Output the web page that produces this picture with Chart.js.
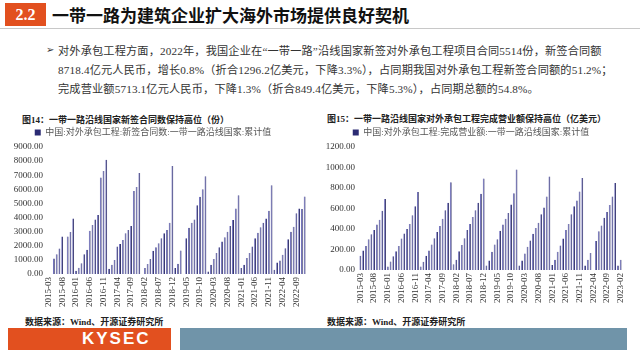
<!DOCTYPE html>
<html>
<head>
<meta charset="utf-8">
<script src="https://cdn.jsdelivr.net/npm/chart.js@4.4.0/dist/chart.umd.min.js"></script>
<style>
    body { margin: 0; width: 640px; height: 360px; background: #fff; position: relative; overflow: hidden;
           font-family: "Liberation Serif", "Noto Sans CJK SC", serif; }
    .abs { position: absolute; white-space: nowrap; }
    #secNo { left: 5px; top: 3px; width: 41px; height: 23px; background: #e2501f; color: #fff;
             font: bold 16px "Liberation Serif"; line-height: 23px; text-align: center; }
    #headLine { left: 0; top: 28px; width: 640px; height: 1px; background: #c8c8c8; }
    #headTitle { left: 52px; top: 4px; font: bold 17px "Noto Sans CJK SC"; color: #111; line-height: 22px; }
    .para { left: 58px; font-size: 11.2px; color: #333; line-height: 14px; letter-spacing: 0.15px; }
    #bullet { left: 46px; top: 44px; font: bold 10px "DejaVu Sans"; color: #333; }
    .ctitle { font: bold 9px "Liberation Serif", "Noto Sans CJK SC"; color: #222; line-height: 12px; }
    .src { font: bold 9px "Liberation Serif", "Noto Sans CJK SC"; color: #222; line-height: 12px; }
    #footL { left: 8px; top: 328px; width: 163px; height: 22px; background: #e2501f; color: #fff;
             font: bold 17px "Liberation Sans"; line-height: 22px; letter-spacing: 2px; }
    #footL span { position: absolute; left: 74px; }
    #footR { left: 180px; top: 328px; width: 447px; height: 22px; background: #7094a9; }
    canvas { position: absolute; }
</style>
</head>
<body>
<div class="abs" id="secNo">2.2</div>
<div class="abs" id="headTitle">一带一路为建筑企业扩大海外市场提供良好契机</div>
<div class="abs" id="headLine"></div>

<div class="abs" id="bullet">➢</div>
<div class="abs para" style="top:44px">对外承包工程方面，2022年，我国企业在“一带一路”沿线国家新签对外承包工程项目合同5514份，新签合同额</div>
<div class="abs para" style="top:63px">8718.4亿元人民币，增长0.8%（折合1296.2亿美元，下降3.3%），占同期我国对外承包工程新签合同额的51.2%；</div>
<div class="abs para" style="top:82px">完成营业额5713.1亿元人民币，下降1.3%（折合849.4亿美元，下降5.3%），占同期总额的54.8%。</div>

<div class="abs ctitle" style="left:22px; top:114px">图14：一带一路沿线国家新签合同数保持高位（份）</div>
<div class="abs ctitle" style="left:327px; top:113px">图15：一带一路沿线国家对外承包工程完成营业额保持高位（亿美元）</div>

<canvas id="countChart" width="320" height="190" style="left:0; top:124px"></canvas>
<canvas id="revenueChart" width="320" height="190" style="left:320px; top:124px"></canvas>

<div class="abs src" style="left:25px; top:316px">数据来源：Wind、开源证券研究所</div>
<div class="abs src" style="left:327px; top:316px">数据来源：Wind、开源证券研究所</div>

<div class="abs" id="footL"><span>KYSEC</span></div>
<div class="abs" id="footR"></div>

<script>
    // 月份（2015-03 至 2023-02）
    const months = [
        '2015-03', '2015-04', '2015-05', '2015-06', '2015-07', '2015-08', '2015-09', '2015-10', '2015-11', '2015-12',
        '2016-01', '2016-02', '2016-03', '2016-04', '2016-05', '2016-06', '2016-07', '2016-08', '2016-09', '2016-10', '2016-11', '2016-12',
        '2017-01', '2017-02', '2017-03', '2017-04', '2017-05', '2017-06', '2017-07', '2017-08', '2017-09', '2017-10', '2017-11', '2017-12',
        '2018-01', '2018-02', '2018-03', '2018-04', '2018-05', '2018-06', '2018-07', '2018-08', '2018-09', '2018-10', '2018-11', '2018-12',
        '2019-01', '2019-02', '2019-03', '2019-04', '2019-05', '2019-06', '2019-07', '2019-08', '2019-09', '2019-10', '2019-11', '2019-12',
        '2020-01', '2020-02', '2020-03', '2020-04', '2020-05', '2020-06', '2020-07', '2020-08', '2020-09', '2020-10', '2020-11', '2020-12',
        '2021-01', '2021-02', '2021-03', '2021-04', '2021-05', '2021-06', '2021-07', '2021-08', '2021-09', '2021-10', '2021-11', '2021-12',
        '2022-01', '2022-02', '2022-03', '2022-04', '2022-05', '2022-06', '2022-07', '2022-08', '2022-09', '2022-10', '2022-11', '2022-12',
        '2023-01', '2023-02'
    ];

    // 新签合同数（份），累计值，2015-03 至 2022-12
    const contractCounts = [
        null, null, 1100, 1400, 1800, 2650, null, 2650, 2980, 3940,
        230, 440, 770, 1400, 1710, 3070, 3470, 3870, 4180, 6830, 7300, 8100,
        370, 650, 1000, 1940, 2130, 2410, 2890, 3120, 3400, 5890, 6170, 7160,
        null, 420, 700, 1060, 1640, 1900, 2180, 2530, 2890, 3120, 3630, 7650,
        420, 725, 1660, null, 2530, 3280, 3630, 3870, 4880, 5470, 6010, 6920,
        180, 650, 1060, 1480, 1900, 2300, 2600, 3000, 3400, 3820, 4640, 5580,
        420, 650, 1130, 1480, 1940, 2530, 2930, 3310, 3630, 3940, 4480, 6290,
        300, 820, 960, 1360, 1830, 2460, 3000, 3350, 4300, 4650, 4600, 5500
    ];

    // 完成营业额（亿美元），累计值，2015-03 至 2023-02
    const revenueUsd = [
        140, 190, 233, 300, 350, 390, 443, 490, 577, 693,
        33, 83, 133, 183, 233, 307, 357, 400, 450, 533, 623, 760,
        35, 80, 140, 190, 250, 310, 370, 430, 500, 583, 657, 855,
        57, 100, 183, 243, 310, 390, 450, 517, 583, 657, 743, 893,
        43, 93, 177, 250, 300, 383, 443, 500, 557, 640, 750, 980,
        43, 93, 160, 227, 287, 353, 410, 460, 543, 610, 717, 911,
        50, 100, 177, 240, 307, 390, 450, 543, 623, 677, 767, 897,
        43, 100, 167, null, 283, 377, 433, 510, 567, 633, 717, 849,
        43, 100
    ];

    const countTicks = { max: 9000, step: 1000 };
    const revenueTicks = { max: 1200, step: 200 };

    const barFill = '#6464b6';
    const barEdge = '#1c1c55';

    Chart.defaults.font.family = '"Liberation Serif", "Noto Sans CJK SC", serif';
    Chart.defaults.font.size = 9;
    Chart.defaults.color = '#333';

    function legendLabels(chart) {
        return Chart.defaults.plugins.legend.labels.generateLabels(chart).map(function (l) {
            l.fillStyle = '#2b2b73';
            l.strokeStyle = '#2b2b73';
            l.lineWidth = 0;
            return l;
        });
    }

    function buildChart(canvasId, labels, values, seriesName, ticks, yWidth, xHeight, padRight) {
        const ctx = document.getElementById(canvasId).getContext('2d');
        return new Chart(ctx, {
            type: 'bar',
            data: {
                labels: labels,
                datasets: [{
                    label: seriesName,
                    data: values,
                    backgroundColor: barFill,
                    borderColor: barEdge,
                    borderWidth: { top: 0, left: 0, bottom: 0, right: 1 },
                    barPercentage: 0.65,
                    categoryPercentage: 1
                }]
            },
            options: {
                responsive: false,
                animation: false,
                layout: { padding: { top: 0, right: padRight, bottom: 0, left: 0 } },
                plugins: {
                    legend: {
                        position: 'top',
                        labels: {
                            boxWidth: 6,
                            boxHeight: 6,
                            padding: 4,
                            color: '#555',
                            font: { size: 9 },
                            generateLabels: legendLabels
                        }
                    },
                    tooltip: { enabled: false }
                },
                scales: {
                    x: {
                        grid: { display: false, drawTicks: false },
                        border: { display: false },
                        ticks: {
                            autoSkip: false,
                            maxRotation: 90,
                            minRotation: 90,
                            padding: 3,
                            callback: function (val, index) {
                                return index % 5 === 0 ? this.getLabelForValue(val) : null;
                            }
                        },
                        afterFit: function (scale) { scale.height = xHeight; }
                    },
                    y: {
                        min: 0,
                        max: ticks.max,
                        grid: { display: false, drawTicks: false },
                        border: { display: false },
                        ticks: {
                            stepSize: ticks.step,
                            padding: 4,
                            callback: function (v) { return v.toFixed(2); }
                        },
                        afterFit: function (scale) { scale.width = yWidth; }
                    }
                }
            }
        });
    }

    window.countChart = buildChart('countChart', months.slice(0, contractCounts.length), contractCounts,
        '中国:对外承包工程:新签合同数:一带一路沿线国家:累计值', countTicks, 47, 40, 14);
    window.revenueChart = buildChart('revenueChart', months, revenueUsd,
        '中国:对外承包工程:完成营业额:一带一路沿线国家:累计值', revenueTicks, 39, 44, 18);
</script>
</body>
</html>
